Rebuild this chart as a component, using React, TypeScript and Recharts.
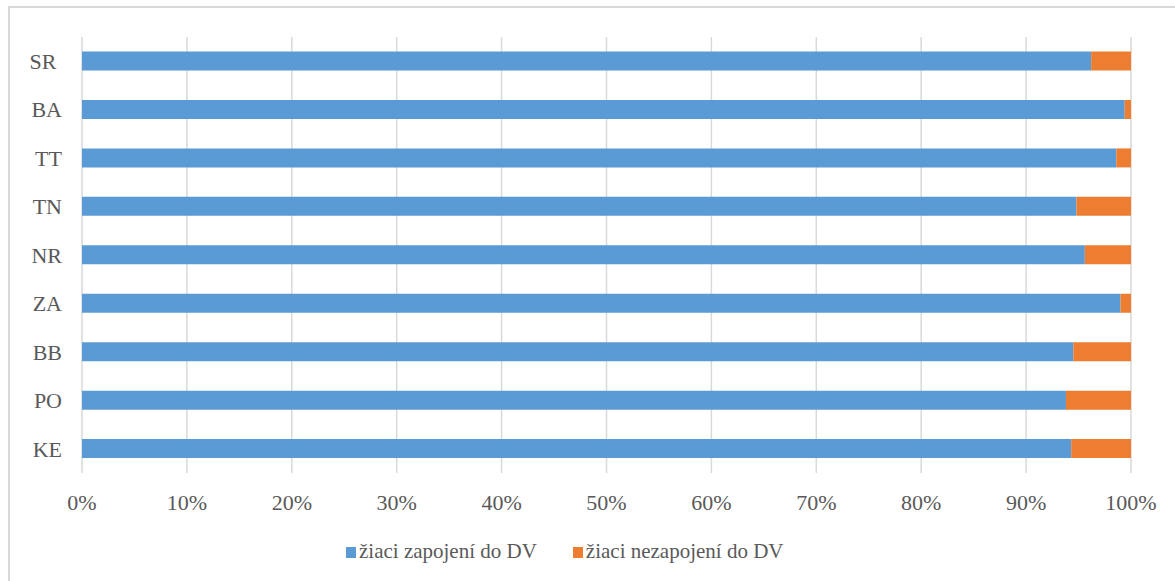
import React from "react";
import { BarChart, Bar, XAxis, YAxis, CartesianGrid, Legend } from "recharts";

const categories = ["SR ", "BA", "TT", "TN", "NR", "ZA", "BB", "PO", "KE"];
const zapojeni = [96.2, 99.4, 98.6, 94.8, 95.6, 99.0, 94.5, 93.8, 94.3];
const nezapojeni = [3.8, 0.6, 1.4, 5.2, 4.4, 1.0, 5.5, 6.2, 5.7];
const xTicks = [0, 10, 20, 30, 40, 50, 60, 70, 80, 90, 100];
const seriesNames = ["žiaci zapojení do DV", "žiaci nezapojení do DV"];
const seriesColors = ["#5B9BD5", "#ED7D31"];

const data = categories.map((c, i) => ({
  name: c,
  zapojeni: zapojeni[i],
  nezapojeni: nezapojeni[i],
}));

const FONT = '"Liberation Serif", "Times New Roman", serif';
const TEXT = "#595959";

const YTick = (props: any) => {
  const { x, y, payload } = props;
  return (
    <text
      x={x}
      y={y}
      dy="0.355em"
      textAnchor="end"
      fill={TEXT}
      fontFamily={FONT}
      fontSize={22}
      style={{ whiteSpace: "pre" }}
      xmlSpace="preserve"
    >
      {payload.value}
    </text>
  );
};

const LegendContent = () => (
  <div
    style={{
      display: "flex",
      alignItems: "center",
      paddingLeft: 346,
      height: 30,
      fontFamily: FONT,
      fontSize: 21,
      color: TEXT,
      whiteSpace: "nowrap",
    }}
  >
    {seriesNames.map((n, i) => (
      <div key={n} style={{ display: "flex", alignItems: "center", marginRight: i === 0 ? 36 : 0 }}>
        <span
          style={{
            display: "inline-block",
            width: 10,
            height: 11,
            background: seriesColors[i],
            marginRight: 3,
            marginTop: 3,
          }}
        />
        <span>{n}</span>
      </div>
    ))}
  </div>
);

export default function App() {
  return (
    <div
      style={{
        position: "absolute",
        left: 0,
        top: 0,
        width: 1175,
        height: 581,
        overflow: "hidden",
        background: "#fff",
      }}
    >
      <div
        style={{
          position: "absolute",
          left: 8,
          top: 6,
          width: 1300,
          height: 700,
          border: "2px solid #d9d9d9",
          boxSizing: "border-box",
        }}
      />
      <div style={{ position: "absolute", left: 0, top: 0 }}>
        <BarChart
          width={1175}
          height={581}
          data={data}
          layout="vertical"
          barCategoryGap="30%"
          margin={{ top: 37, right: 44, left: 0, bottom: 0 }}
        >
          <CartesianGrid horizontal={false} vertical stroke="#d9d9d9" strokeWidth={1.5} />
          <XAxis
            type="number"
            domain={[0, 100]}
            ticks={xTicks}
            interval={0}
            tickFormatter={(v: number) => `${v}%`}
            axisLine={false}
            tickLine={false}
            tickSize={0}
            tickMargin={21}
            height={108}
            tick={{ fill: TEXT, fontFamily: FONT, fontSize: 22 }}
          />
          <YAxis
            type="category"
            dataKey="name"
            width={82}
            axisLine={false}
            tickLine={false}
            tickSize={0}
            tickMargin={20}
            interval={0}
            tick={<YTick />}
          />
          <Legend
            layout="horizontal"
            verticalAlign="middle"
            align="center"
            wrapperStyle={{ left: 0, top: 536, width: 1175 }}
            content={<LegendContent />}
          />
          <Bar dataKey="zapojeni" name={seriesNames[0]} stackId="a" fill={seriesColors[0]} isAnimationActive={false} />
          <Bar dataKey="nezapojeni" name={seriesNames[1]} stackId="a" fill={seriesColors[1]} isAnimationActive={false} />
        </BarChart>
      </div>
    </div>
  );
}
